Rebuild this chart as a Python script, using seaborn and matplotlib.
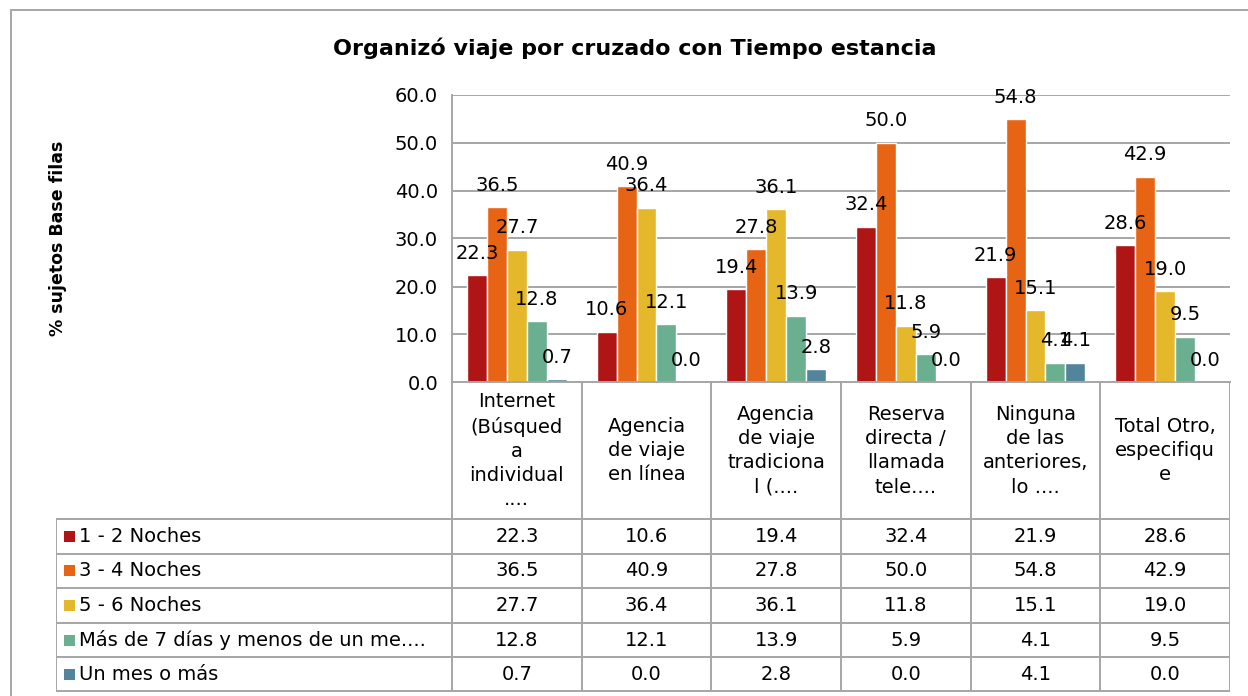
import pandas as pd
import matplotlib
matplotlib.use('Agg')
import matplotlib.pyplot as plt
from matplotlib.lines import Line2D
from matplotlib.patches import Rectangle
import seaborn as sns

# Chart data
categories = ['Internet\n(Búsqued\na\nindividual\n....',
              'Agencia\nde viaje\nen línea',
              'Agencia\nde viaje\ntradiciona\nl (....',
              'Reserva\ndirecta /\nllamada\ntele....',
              'Ninguna\nde las\nanteriores,\nlo ....',
              'Total Otro,\nespecifiqu\ne']
series = ['1 - 2 Noches', '3 - 4 Noches', '5 - 6 Noches',
          'Más de 7 días y menos de un me....', 'Un mes o más']
noches_1_2 = [22.3, 10.6, 19.4, 32.4, 21.9, 28.6]
noches_3_4 = [36.5, 40.9, 27.8, 50.0, 54.8, 42.9]
noches_5_6 = [27.7, 36.4, 36.1, 11.8, 15.1, 19.0]
mas_7_dias = [12.8, 12.1, 13.9, 5.9, 4.1, 9.5]
un_mes = [0.7, 0.0, 2.8, 0.0, 4.1, 0.0]
values = [noches_1_2, noches_3_4, noches_5_6, mas_7_dias, un_mes]

colors = ['#B01515', '#E86415', '#E5B72A', '#6AAF90', '#52849C']
grid_col = '#A6A6A6'

# Long format for seaborn
rows = []
for s, vals in zip(series, values):
    for c, v in zip(categories, vals):
        rows.append({'cat': c, 'serie': s, 'val': v})
df = pd.DataFrame(rows)

sns.set_style('white')
plt.rcParams['font.family'] = ['DejaVu Sans']
plt.rcParams['text.color'] = 'black'
plt.rcParams['ytick.labelcolor'] = 'black'

W, H = 1248, 696
fig = plt.figure(figsize=(W / 100, H / 100), dpi=100)


def px_axes(left, top, right, bottom):
    return fig.add_axes([left / W, 1 - bottom / H, (right - left) / W, (bottom - top) / H])


# Main bar chart
ax = px_axes(452, 94.5, 1230, 382.5)
sns.barplot(data=df, x='cat', y='val', hue='serie', palette=colors, width=0.77,
            saturation=1, ax=ax, legend=False, order=categories, hue_order=series)
ax.set_xlim(-0.5, len(categories) - 0.5)
ax.set_ylim(0, 60)
ax.set_yticks(range(0, 61, 10))
ax.set_yticklabels([f'{t:.1f}' for t in range(0, 61, 10)], fontsize=14, color='black')
ax.set_xticks([])
ax.set_xlabel('')
ax.set_ylabel('')
ax.yaxis.grid(True, color=grid_col, lw=1.4)
ax.set_axisbelow(True)
for side in ['top', 'right']:
    ax.spines[side].set_visible(False)
for side in ['left', 'bottom']:
    ax.spines[side].set_color(grid_col)
    ax.spines[side].set_linewidth(1.4)
ax.tick_params(axis='y', direction='inout', length=8, width=1.4, color=grid_col, pad=6)

for cont, vals in zip(ax.containers, values):
    ax.bar_label(cont, labels=[f'{v:.1f}' for v in vals], padding=9, fontsize=14,
                 color='black')

fig.text(635 / W, 1 - 48 / H, 'Organizó viaje por cruzado con Tiempo estancia',
         ha='center', va='center', fontsize=16, fontweight='bold')
fig.text(58 / W, 1 - 238 / H, '% sujetos Base filas', rotation=90,
         ha='center', va='center', fontsize=12.5, fontweight='bold')

# Data table below the chart, sharing the column spacing of the bars
px_per_unit = (1230 - 452) / len(categories)
left_unit = -0.5 - (452 - 56) / px_per_unit
tab = px_axes(56, 382.5, 1230, 692)
tab.set_xlim(left_unit, len(categories) - 0.5)
tab.set_ylim(692 - 382.5, 0)
tab.axis('off')

head_h = 519 - 382.5
row_h = (692 - 519) / len(series)
lkw = dict(color=grid_col, lw=1.4, solid_capstyle='projecting')

# Header: category labels with column separators
for i, c in enumerate(categories):
    tab.plot([i - 0.5, i - 0.5], [0, head_h], **lkw)
    tab.text(i, head_h / 2, c, ha='center', va='center', fontsize=14, linespacing=1.35)
tab.plot([len(categories) - 0.5] * 2, [0, head_h], **lkw)

# Rows
for r, (s, vals, col) in enumerate(zip(series, values, colors)):
    y0 = head_h + r * row_h
    yc = y0 + row_h / 2
    tab.plot([left_unit, len(categories) - 0.5], [y0, y0], **lkw)
    key_x = left_unit + 8 / px_per_unit
    tab.add_patch(Rectangle((key_x, yc - 5.5), 11 / px_per_unit, 11, color=col, lw=0))
    tab.text(left_unit + 23 / px_per_unit, yc, s, ha='left', va='center', fontsize=14)
    for i, v in enumerate(vals):
        tab.text(i, yc, f'{v:.1f}', ha='center', va='center', fontsize=14)
tab.plot([left_unit, len(categories) - 0.5], [692 - 382.5 - 1] * 2, **lkw)
tab.plot([left_unit, left_unit], [head_h, 692 - 382.5], **lkw)
for i in range(len(categories) + 1):
    tab.plot([i - 0.5, i - 0.5], [head_h, 692 - 382.5], **lkw)

# Outer chart border
fig.add_artist(Line2D([11 / W, 11 / W], [0, 1 - 10 / H], color=grid_col, lw=1.4))
fig.add_artist(Line2D([11 / W, 1], [1 - 10 / H, 1 - 10 / H], color=grid_col, lw=1.4))

fig.savefig('out.png', dpi=100)
